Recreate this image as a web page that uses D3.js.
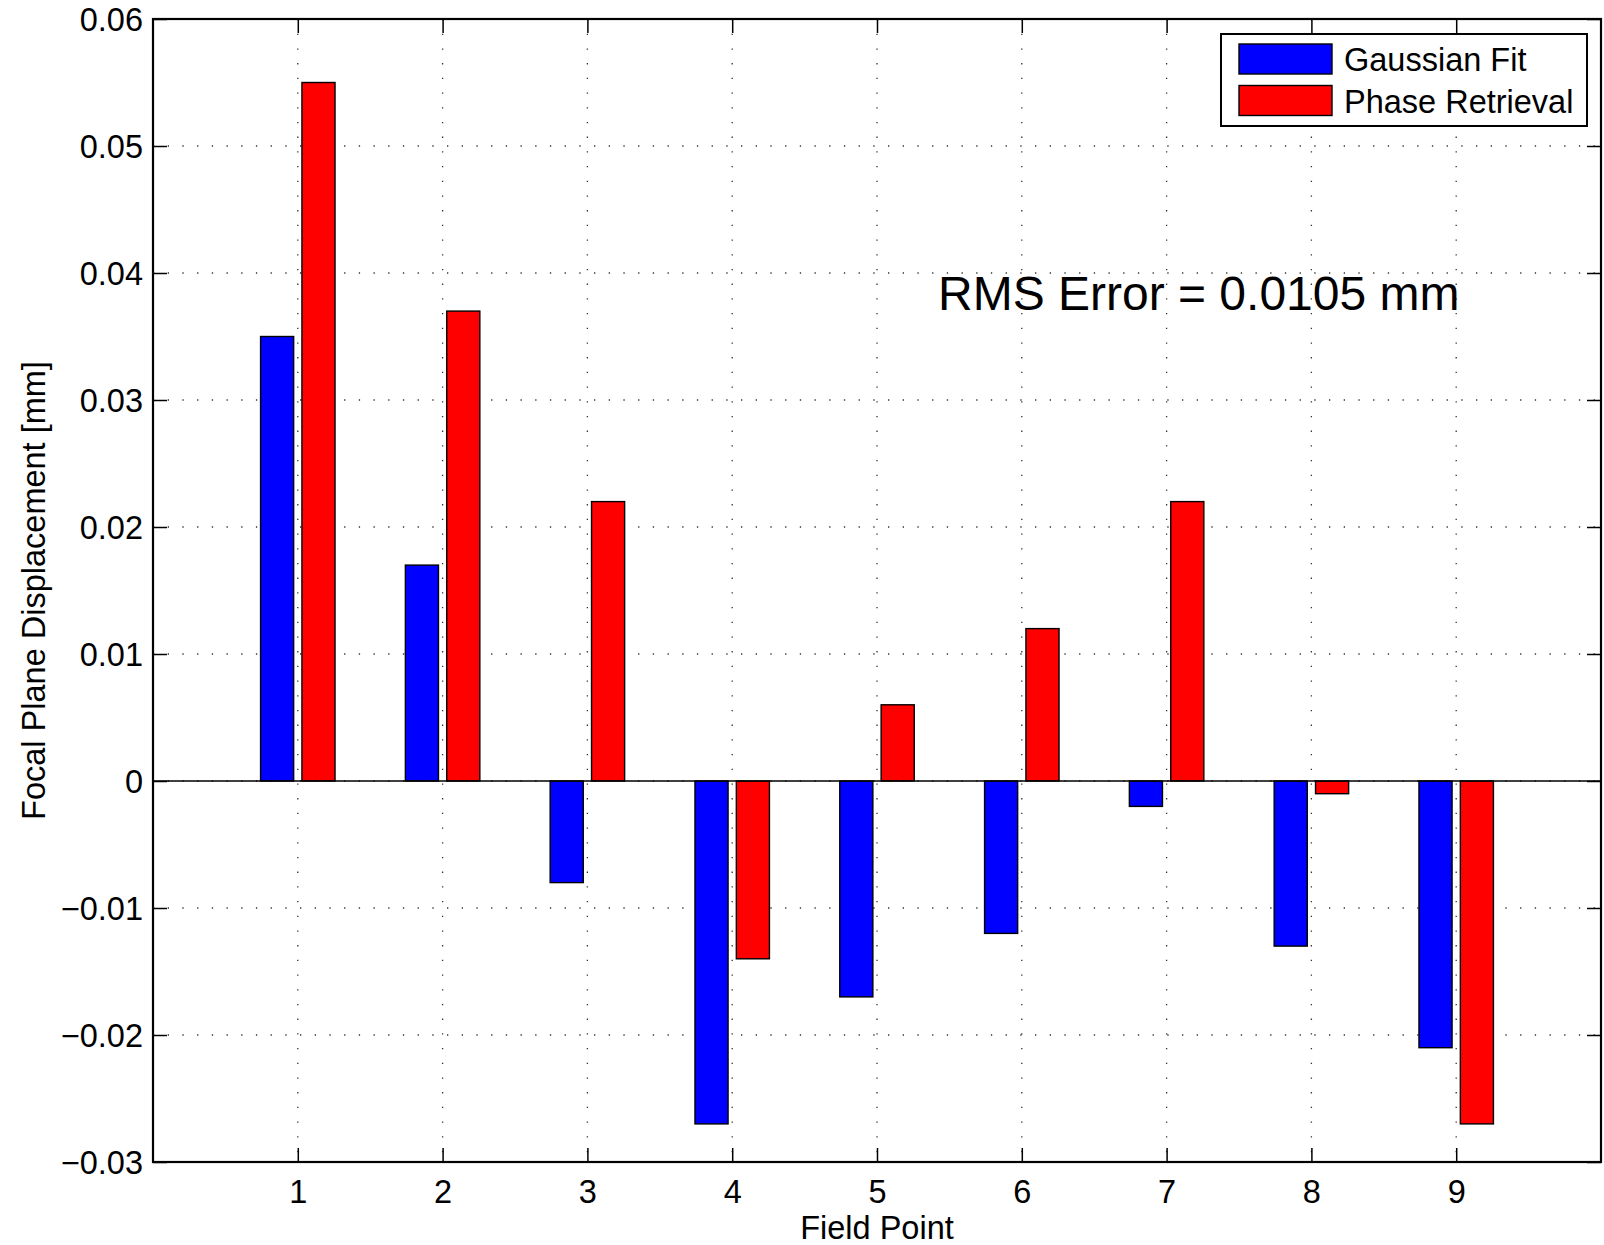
<!DOCTYPE html>
<html>
<head>
<meta charset="utf-8">
<script src="https://cdn.jsdelivr.net/npm/d3@7"></script>
<style>
  body { margin: 0; background: #fff; }
  text { font-family: "Liberation Sans", Arial, Helvetica, sans-serif; fill: #000; }
</style>
</head>
<body>
<div id="chart"></div>
<script>
// Data.
const fieldPoints = [1, 2, 3, 4, 5, 6, 7, 8, 9];
const gaussianFit = [0.035, 0.017, -0.008, -0.027, -0.017, -0.012, -0.002, -0.013, -0.021];
const phaseRetrieval = [0.055, 0.037, 0.022, -0.014, 0.006, 0.012, 0.022, -0.001, -0.027];
const seriesNames = ['Gaussian Fit', 'Phase Retrieval'];
const seriesColors = ['#0000ff', '#ff0000'];
const yTicks = [-0.03, -0.02, -0.01, 0, 0.01, 0.02, 0.03, 0.04, 0.05, 0.06];
const rmsLabel = 'RMS Error = 0.0105 mm';

const width = 1604;
const height = 1245;
const margin = { top: 19, right: 3, bottom: 83, left: 153 };
const plotW = width - margin.left - margin.right;
const plotH = height - margin.top - margin.bottom;
const fontSize = 32.5;

const svg = d3.select('#chart')
  .append('svg')
  .attr('width', width)
  .attr('height', height);

const g = svg.append('g')
  .attr('transform', 'translate(' + margin.left + ',' + margin.top + ')');

const x = d3.scaleLinear().domain([0, 10]).range([0, plotW]);
const y = d3.scaleLinear().domain([-0.03, 0.06]).range([plotH, 0]);

// MATLAB-style grouped bars: group width 2/3.5, each bar 0.8 of its slot
const nSeries = 2;
const groupW = Math.min(0.8, nSeries / (nSeries + 1.5));
const slotW = groupW / nSeries;
const barW = slotW * 0.8;

// grid
const grid = g.append('g').attr('class', 'grid')
  .attr('stroke', '#333')
  .attr('stroke-width', 1.3)
  .attr('stroke-dasharray', '1.3 13.4');

grid.selectAll('.hgrid')
  .data(yTicks.filter(d => d !== -0.03 && d !== 0.06))
  .enter()
  .append('line')
  .attr('x1', 0)
  .attr('x2', plotW)
  .attr('y1', d => y(d))
  .attr('y2', d => y(d));

grid.selectAll('.vgrid')
  .data(fieldPoints)
  .enter()
  .append('line')
  .attr('x1', d => x(d))
  .attr('x2', d => x(d))
  .attr('y1', 0)
  .attr('y2', plotH);

// bars
const allSeries = [gaussianFit, phaseRetrieval];
allSeries.forEach((vals, s) => {
  const offset = -groupW / 2 + slotW * (s + 0.5);
  g.append('g')
    .selectAll('rect')
    .data(vals)
    .enter()
    .append('rect')
    .attr('x', (d, i) => x(fieldPoints[i] + offset - barW / 2))
    .attr('width', x(barW) - x(0))
    .attr('y', d => y(Math.max(0, d)))
    .attr('height', d => Math.abs(y(d) - y(0)))
    .attr('fill', seriesColors[s])
    .attr('stroke', '#000')
    .attr('stroke-width', 1.4);
});

// zero baseline
g.append('line')
  .attr('x1', 0)
  .attr('x2', plotW)
  .attr('y1', y(0))
  .attr('y2', y(0))
  .attr('stroke', '#000')
  .attr('stroke-width', 1.3);

// axes with inward ticks on all sides
const fmtY = d => d === 0 ? '0' : (d < 0 ? '\u2212' : '') + d3.format('.2f')(Math.abs(d));

const styleAxis = sel => {
  sel.select('.domain').remove();
  sel.selectAll('.tick line').attr('stroke', '#000').attr('stroke-width', 1.5);
  sel.selectAll('.tick text').attr('font-size', fontSize).attr('font-family', '"Liberation Sans", Arial, sans-serif');
};

g.append('g')
  .call(d3.axisLeft(y).tickValues(yTicks).tickSize(-14).tickPadding(10).tickFormat(fmtY))
  .call(styleAxis)
  .selectAll('.tick text').attr('dy', '0.35em');

g.append('g')
  .attr('transform', 'translate(' + plotW + ',0)')
  .call(d3.axisRight(y).tickValues(yTicks).tickSize(-14).tickFormat(''))
  .call(styleAxis);

g.append('g')
  .attr('transform', 'translate(0,' + plotH + ')')
  .call(d3.axisBottom(x).tickValues(fieldPoints).tickSize(-14).tickPadding(18).tickFormat(d3.format('d')))
  .call(styleAxis);

g.append('g')
  .call(d3.axisTop(x).tickValues(fieldPoints).tickSize(-14).tickFormat(''))
  .call(styleAxis);

// frame
g.append('rect')
  .attr('width', plotW)
  .attr('height', plotH)
  .attr('fill', 'none')
  .attr('stroke', '#000')
  .attr('stroke-width', 2.2);

// annotation
g.append('text')
  .attr('x', 938 - margin.left)
  .attr('y', 310 - margin.top)
  .attr('font-size', 48)
  .text(rmsLabel);

// axis labels
svg.append('text')
  .attr('x', margin.left + plotW / 2)
  .attr('y', 1239)
  .attr('text-anchor', 'middle')
  .attr('font-size', fontSize)
  .text('Field Point');

svg.append('text')
  .attr('transform', 'translate(45,' + (margin.top + plotH / 2) + ') rotate(-90)')
  .attr('text-anchor', 'middle')
  .attr('font-size', fontSize)
  .text('Focal Plane Displacement [mm]');

// legend
const legend = svg.append('g').attr('transform', 'translate(1221,34)');
legend.append('rect')
  .attr('width', 366)
  .attr('height', 92)
  .attr('fill', '#fff')
  .attr('stroke', '#000')
  .attr('stroke-width', 2);

const legendItems = legend.selectAll('.item')
  .data(seriesNames)
  .enter()
  .append('g')
  .attr('transform', (d, i) => 'translate(18,' + (10 + i * 41.5) + ')');

legendItems.append('rect')
  .attr('width', 93)
  .attr('height', 30)
  .attr('fill', (d, i) => seriesColors[i])
  .attr('stroke', '#000')
  .attr('stroke-width', 1.4);

legendItems.append('text')
  .attr('x', 105)
  .attr('y', 27)
  .attr('font-size', fontSize)
  .text(d => d);
</script>
</body>
</html>
